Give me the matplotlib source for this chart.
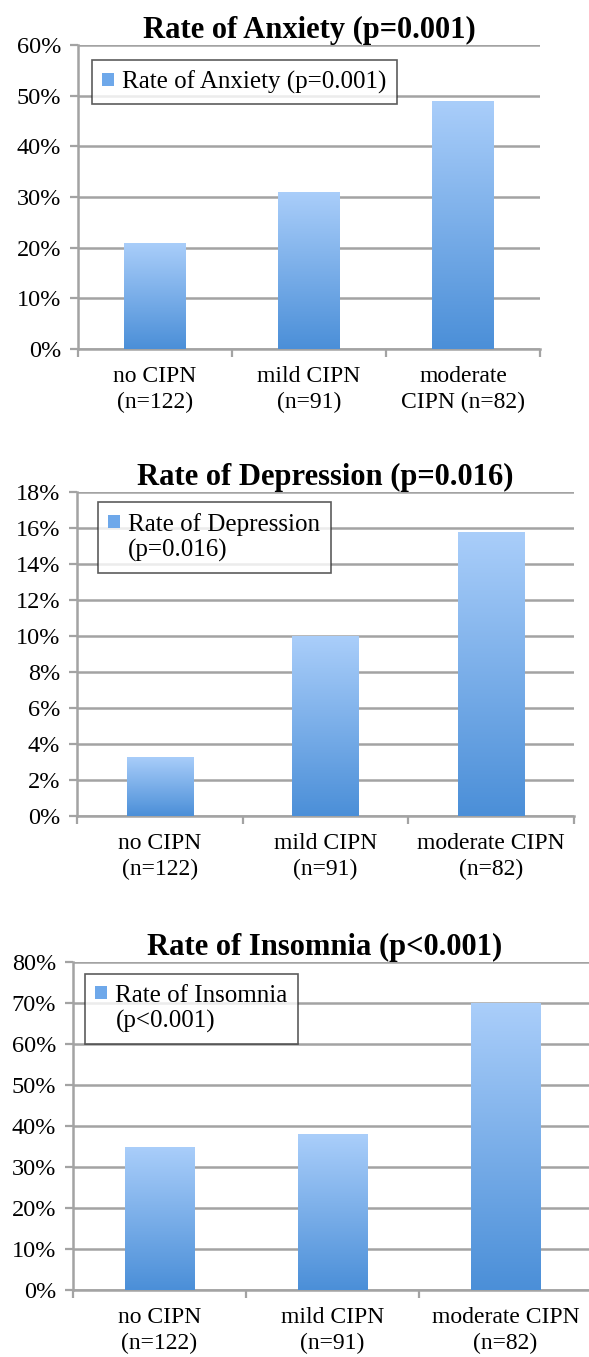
import numpy as np
import matplotlib
matplotlib.use("Agg")
import matplotlib.pyplot as plt
from matplotlib.colors import LinearSegmentedColormap
from matplotlib.patches import Patch

plt.rcParams['font.family'] = ['Liberation Serif', 'DejaVu Serif']

# データ
categories_short = ["no CIPN\n(n=122)", "mild CIPN\n(n=91)", "moderate\nCIPN (n=82)"]
categories_long = ["no CIPN\n(n=122)", "mild CIPN\n(n=91)", "moderate CIPN\n(n=82)"]

anxiety = [21, 31, 49]
depression = [3.3, 10, 15.8]
insomnia = [35, 38, 70]

titles = ["Rate of Anxiety (p=0.001)", "Rate of Depression (p=0.016)", "Rate of Insomnia (p<0.001)"]
# 凡例の行（2行目はマーカーなし）
legend_lines = [["Rate of Anxiety (p=0.001)"],
                ["Rate of Depression", "(p=0.016)"],
                ["Rate of Insomnia", "(p<0.001)"]]
yticks_list = [np.arange(0, 61, 10), np.arange(0, 19, 2), np.arange(0, 81, 10)]

W, H = 589, 1357
TOP_COLOR = "#aacefa"
BOT_COLOR = "#4b8fd8"
GRID = "#a3a3a3"
cmap = LinearSegmentedColormap.from_list("bar", [BOT_COLOR, TOP_COLOR])


def px_axes(fig, left, right, top, bottom):
    return fig.add_axes([left / W, 1 - bottom / H, (right - left) / W, (bottom - top) / H])


def draw_panel(ax, values, cats, title, leg_lines, yticks, leg_anchor, title_x=0.5):
    x = np.arange(len(values))
    bars = ax.bar(x, values, width=0.40, color=BOT_COLOR, zorder=2, linewidth=0)
    grad = np.linspace(0, 1, 256).reshape(-1, 1)
    for b in bars:
        x0, y0 = b.get_x(), b.get_y()
        im = ax.imshow(grad, extent=[x0, x0 + b.get_width(), y0, y0 + b.get_height()],
                       origin="lower", aspect="auto", cmap=cmap, zorder=3)
        im.set_clip_path(b)

    ax.set_xlim(-0.5, 2.5)
    ax.set_ylim(yticks[0], yticks[-1])
    ax.set_yticks(yticks)
    ax.set_yticklabels([f"{v:.0f}%" for v in yticks], fontsize=17.5)
    ax.set_xticks(x)
    ax.set_xticklabels(cats, fontsize=17, linespacing=1.35)
    ax.set_xticks(np.arange(len(values) + 1) - 0.5, minor=True)
    ax.tick_params(axis="x", which="major", length=0, pad=12)
    ax.tick_params(axis="x", which="minor", length=6, width=1.6, color=GRID)
    ax.tick_params(axis="y", length=6, width=1.6, color=GRID, pad=6)

    ax.grid(axis="y", color=GRID, linewidth=1.8, zorder=0)
    ax.set_axisbelow(True)
    for s in ["top", "right"]:
        ax.spines[s].set_visible(False)
    for s in ["left", "bottom"]:
        ax.spines[s].set_color(GRID)
        ax.spines[s].set_linewidth(1.8)

    ax.set_title(title, fontsize=22, fontweight="bold", pad=5, x=title_x)

    handles = [Patch(facecolor="#6ea8ea", edgecolor="none")]
    handles += [Patch(facecolor="none", edgecolor="none") for _ in leg_lines[1:]]
    leg = ax.legend(handles, leg_lines, loc="upper left", bbox_to_anchor=leg_anchor,
                    borderaxespad=0, fontsize=18, frameon=True, fancybox=False,
                    handlelength=0.45, handleheight=0.45, handletextpad=0.35,
                    borderpad=0.42, labelspacing=0.15)
    leg.get_frame().set_edgecolor("#333333")
    leg.get_frame().set_linewidth(1.2)
    leg.set_zorder(5)


def main():
    fig = plt.figure(figsize=(W / 100, H / 100), dpi=100)
    fig.patch.set_facecolor("white")

    ax1 = px_axes(fig, 78, 540, 45, 349)
    draw_panel(ax1, anxiety, categories_short, titles[0], legend_lines[0],
               yticks_list[0], (0.030, 0.951))

    ax2 = px_axes(fig, 77, 574, 492, 816)
    draw_panel(ax2, depression, categories_long, titles[1], legend_lines[1],
               yticks_list[1], (0.042, 0.969))

    # 3つ目は右端が少し切れている
    ax3 = px_axes(fig, 73, 592, 962, 1290)
    draw_panel(ax3, insomnia, categories_long, titles[2], legend_lines[2],
               yticks_list[2], (0.023, 0.963), title_x=0.484)

    fig.savefig("out.png", dpi=100, facecolor="white")


if __name__ == "__main__":
    main()
